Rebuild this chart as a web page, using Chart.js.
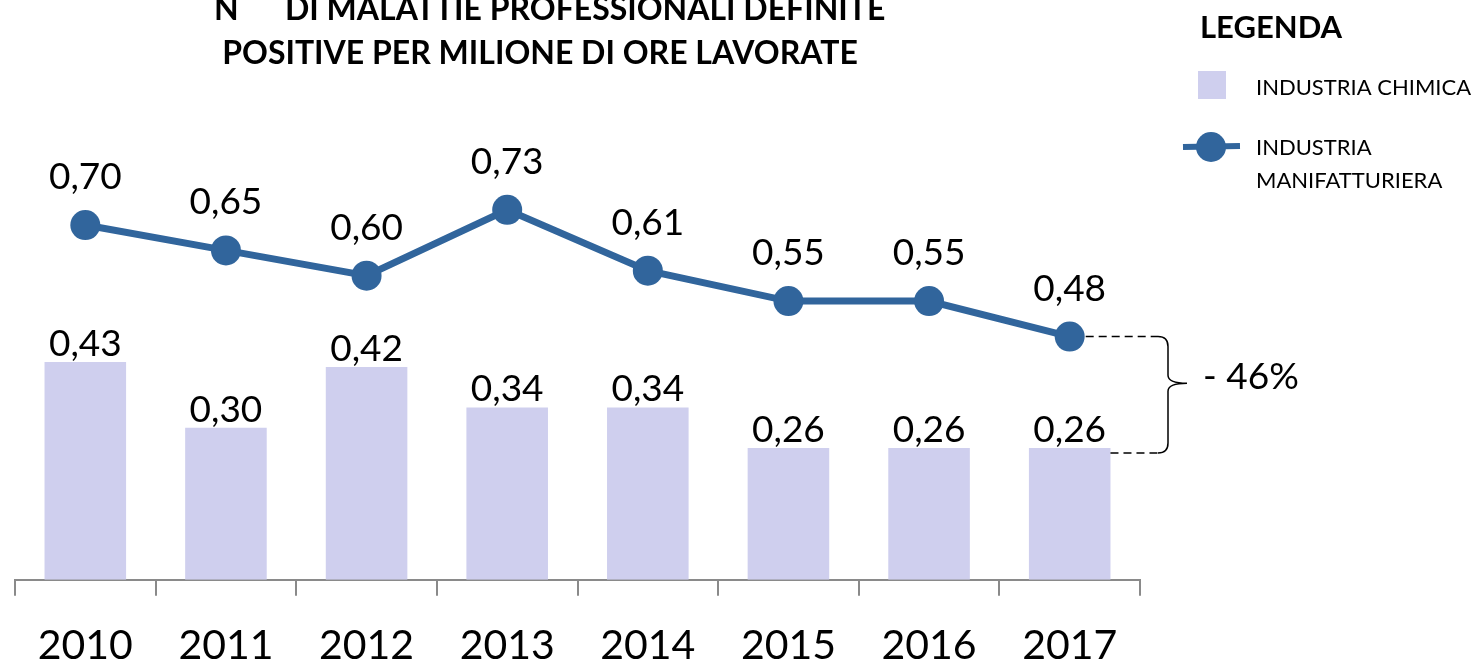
<!DOCTYPE html>
<html>
<head>
<meta charset="utf-8">
<script src="https://cdn.jsdelivr.net/npm/chart.js@4"></script>
<style>
  html, body { margin: 0; padding: 0; background: #fff; }
  #wrap { width: 1479px; height: 661px; }
</style>
</head>
<body>
<div id="wrap"><canvas id="chart" width="1479" height="661"></canvas></div>
<script>
// data
const years = ['2010', '2011', '2012', '2013', '2014', '2015', '2016', '2017'];
const chimica = [0.43, 0.30, 0.42, 0.34, 0.34, 0.26, 0.26, 0.26];
const manifatturiera = [0.70, 0.65, 0.60, 0.73, 0.61, 0.55, 0.55, 0.48];
const changeLabel = '- 46%';

const barColor = '#cfcfee';
const lineColor = '#31659c';
const font = 'Lato, "Open Sans", sans-serif';

const fmt = v => v.toFixed(2).replace('.', ',');

// labels, title, legend, brace
const extras = {
  id: 'extras',
  afterDatasetsDraw(chart) {
    const ctx = chart.ctx;
    const y = chart.scales.y;
    ctx.save();
    ctx.fillStyle = '#000';
    ctx.textAlign = 'center';
    ctx.textBaseline = 'alphabetic';
    ctx.font = '37px ' + font;

    chart.getDatasetMeta(1).data.forEach((bar, i) => {
      ctx.fillText(fmt(chimica[i]), bar.x, bar.y - 6);
    });
    chart.getDatasetMeta(0).data.forEach((pt, i) => {
      ctx.fillText(fmt(manifatturiera[i]), pt.x, pt.y - 36);
    });

    // title
    ctx.font = 'bold 32px ' + font;
    ctx.textAlign = 'left';
    ctx.fillText('N', 214, 20);
    ctx.fillText('DI MALATTIE PROFESSIONALI DEFINITE', 285, 20);
    ctx.textAlign = 'center';
    ctx.fillText('POSITIVE PER MILIONE DI ORE LAVORATE', 540, 64);

    // legend
    ctx.textAlign = 'left';
    ctx.font = 'bold 31px ' + font;
    ctx.fillText('LEGENDA', 1200, 38);
    ctx.fillStyle = barColor;
    ctx.fillRect(1198, 71, 28, 28);
    ctx.fillStyle = '#000';
    ctx.font = '22px ' + font;
    ctx.textBaseline = 'middle';
    ctx.fillText('INDUSTRIA CHIMICA', 1256, 88);
    ctx.fillText('INDUSTRIA', 1256, 148);
    ctx.fillText('MANIFATTURIERA', 1256, 181);
    ctx.strokeStyle = lineColor;
    ctx.lineWidth = 6;
    ctx.beginPath();
    ctx.moveTo(1183, 147);
    ctx.lineTo(1240, 146);
    ctx.stroke();
    ctx.fillStyle = lineColor;
    ctx.beginPath();
    ctx.arc(1211, 147, 15, 0, Math.PI * 2);
    ctx.fill();

    // brace annotation between last values
    const last = years.length - 1;
    const pt = chart.getDatasetMeta(0).data[last];
    const bar = chart.getDatasetMeta(1).data[last];
    const yTop = y.getPixelForValue(manifatturiera[last]);
    const yBot = y.getPixelForValue(chimica[last]) + 5;
    const bx = 1158;
    ctx.strokeStyle = '#000';
    ctx.lineWidth = 1.5;
    ctx.setLineDash([8, 5]);
    ctx.beginPath();
    ctx.moveTo(pt.x + 16, yTop); ctx.lineTo(bx, yTop);
    ctx.moveTo(bar.x + bar.width / 2, yBot); ctx.lineTo(bx, yBot);
    ctx.stroke();
    ctx.setLineDash([]);
    const tip = yTop + (yBot - yTop) * 0.4;
    const vx = bx + 10;
    ctx.beginPath();
    ctx.moveTo(bx, yTop);
    ctx.quadraticCurveTo(vx, yTop, vx, yTop + 10);
    ctx.lineTo(vx, tip - 8);
    ctx.quadraticCurveTo(vx, tip, vx + 19, tip);
    ctx.quadraticCurveTo(vx, tip, vx, tip + 8);
    ctx.lineTo(vx, yBot - 10);
    ctx.quadraticCurveTo(vx, yBot, bx, yBot);
    ctx.stroke();
    ctx.fillStyle = '#000';
    ctx.font = '37px ' + font;
    ctx.textAlign = 'left';
    ctx.textBaseline = 'middle';
    ctx.fillText(changeLabel, 1203, tip - 6);
    ctx.restore();
  }
};

new Chart(document.getElementById('chart'), {
  type: 'bar',
  data: {
    labels: years,
    datasets: [{
      type: 'line',
      label: 'INDUSTRIA MANIFATTURIERA',
      data: manifatturiera,
      borderColor: lineColor,
      backgroundColor: lineColor,
      borderWidth: 7,
      pointRadius: 15,
      pointHoverRadius: 15,
      pointBackgroundColor: lineColor,
      pointBorderWidth: 0,
      tension: 0,
      order: 0
    }, {
      label: 'INDUSTRIA CHIMICA',
      data: chimica,
      backgroundColor: barColor,
      barPercentage: 0.58,
      categoryPercentage: 1,
      order: 1
    }]
  },
  options: {
    responsive: false,
    animation: false,
    layout: { padding: { left: 12, right: 339, top: 73, bottom: -34 } },
    plugins: { legend: { display: false }, tooltip: { enabled: false } },
    scales: {
      x: {
        offset: true,
        grid: { offset: true, drawOnChartArea: false, drawTicks: true, tickLength: 16, color: '#8a8a8a', lineWidth: 2 },
        border: { display: true, color: '#8a8a8a', width: 2 },
        ticks: { color: '#000', font: { family: font, size: 41 }, padding: 25, maxRotation: 0 }
      },
      y: { display: false, min: 0, max: 1 }
    }
  },
  plugins: [extras]
});
</script>
</body>
</html>
